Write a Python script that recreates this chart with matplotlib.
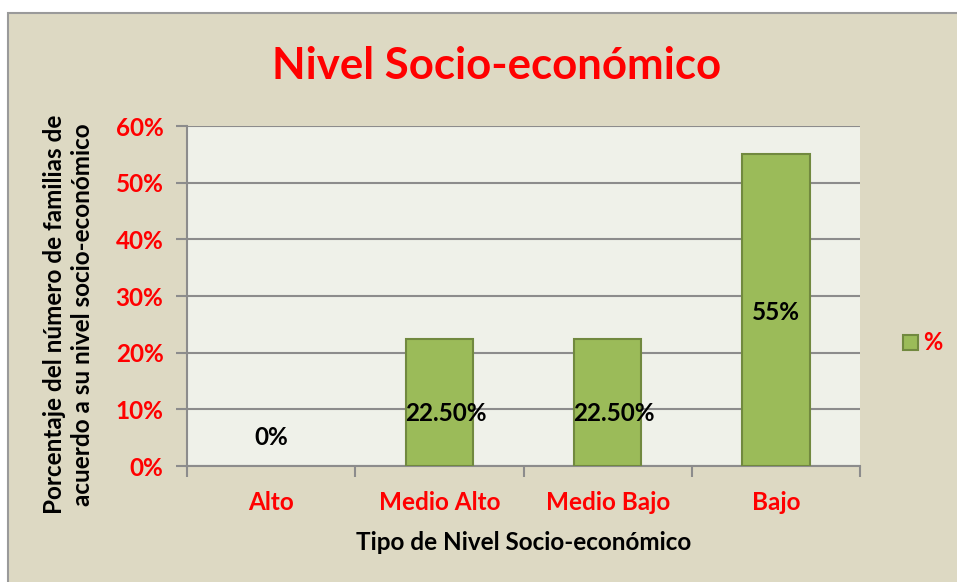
import numpy as np
import matplotlib.pyplot as plt
from matplotlib.patches import Rectangle

# Datos del grafico
categorias = ['Alto', 'Medio Alto', 'Medio Bajo', 'Bajo']
porcentajes = [0, 22.5, 22.5, 55]
etiquetas = ['0%', '22.50%', '22.50%', '55%']
yticks = [0, 10, 20, 30, 40, 50, 60]

plt.rcParams['font.family'] = ['Lato', 'DejaVu Sans']
plt.rcParams['font.weight'] = 'bold'

fondo = '#DDD9C3'
area = '#EFF1E9'
verde = '#9BBB59'
borde_verde = '#71893F'
gris = '#8C8C8C'
rojo = '#FF0000'

fig = plt.figure(figsize=(9.57, 5.82), dpi=100, facecolor='white')
fig.patches.append(Rectangle((8 / 957, -0.02), 1.02, 1 - 13 / 582 + 0.02,
                             transform=fig.transFigure, facecolor=fondo,
                             edgecolor='#9A9A9A', linewidth=1.5, zorder=-10))

ax = fig.add_axes([187 / 957, 1 - 466 / 582, (860 - 187) / 957, (466 - 126) / 582])
ax.set_zorder(5)
ax.set_facecolor(area)

x = np.arange(len(categorias))
barras = ax.bar(x, porcentajes, width=0.4, color=verde, edgecolor=borde_verde,
                linewidth=1.5, zorder=3)
for b, v in zip(barras, porcentajes):
    if v == 0:
        b.set_visible(False)

for xi, v, txt in zip(x, porcentajes, etiquetas):
    yl = v / 2 - 0.4 if v > 0 else 5
    if 0 < v < 30:
        yl = v / 2 - 2
    ax.text(xi + (0.04 if 0 < v < 30 else 0), yl, txt, ha='center', va='center',
            fontsize=17.5, fontweight='bold', color='black', zorder=4)

ax.set_xlim(-0.5, len(categorias) - 0.5)
ax.set_ylim(0, 60)
ax.set_yticks(yticks)
ax.set_yticklabels([f'{t}%' for t in yticks], color=rojo, fontsize=17.5,
                   fontweight='bold')
ax.yaxis.grid(True, color=gris, linewidth=1.5, zorder=1)
ax.set_axisbelow(True)
ax.tick_params(axis='y', length=8, width=1.5, color=gris, pad=9)

ax.set_xticks(x)
ax.set_xticklabels(categorias, color=rojo, fontsize=17.5, fontweight='bold')
ax.set_xticks(np.arange(len(categorias) + 1) - 0.5, minor=True)
ax.tick_params(axis='x', which='major', length=0, pad=18)
ax.tick_params(axis='x', which='minor', length=8, width=1.5, color=gris)

for s in ['top', 'right']:
    ax.spines[s].set_visible(False)
for s in ['left', 'bottom']:
    ax.spines[s].set_color(gris)
    ax.spines[s].set_linewidth(1.5)

ax.set_xlabel('Tipo de Nivel Socio-económico', fontsize=17.5, fontweight='bold',
              labelpad=12)
ax.set_ylabel('Porcentaje del número de familias de\nacuerdo a su nivel socio-económico',
              fontsize=17.5, fontweight='bold', linespacing=1.25)
ax.yaxis.set_label_coords(-0.138, 0.445)

fig.text(497 / 957, 1 - 66 / 582, 'Nivel Socio-económico', ha='center',
         va='center', color=rojo, fontsize=31.5, fontweight='bold')

# Leyenda
fig.patches.append(Rectangle((903 / 957, 1 - 350 / 582), 15 / 957, 15 / 582,
                             transform=fig.transFigure, facecolor=verde,
                             edgecolor=borde_verde, linewidth=1.5))
fig.text(923 / 957, 1 - 343 / 582, '%', ha='left', va='center', color=rojo,
         fontsize=17, fontweight='bold')

fig.savefig('out.png', dpi=100, facecolor=fig.get_facecolor())
